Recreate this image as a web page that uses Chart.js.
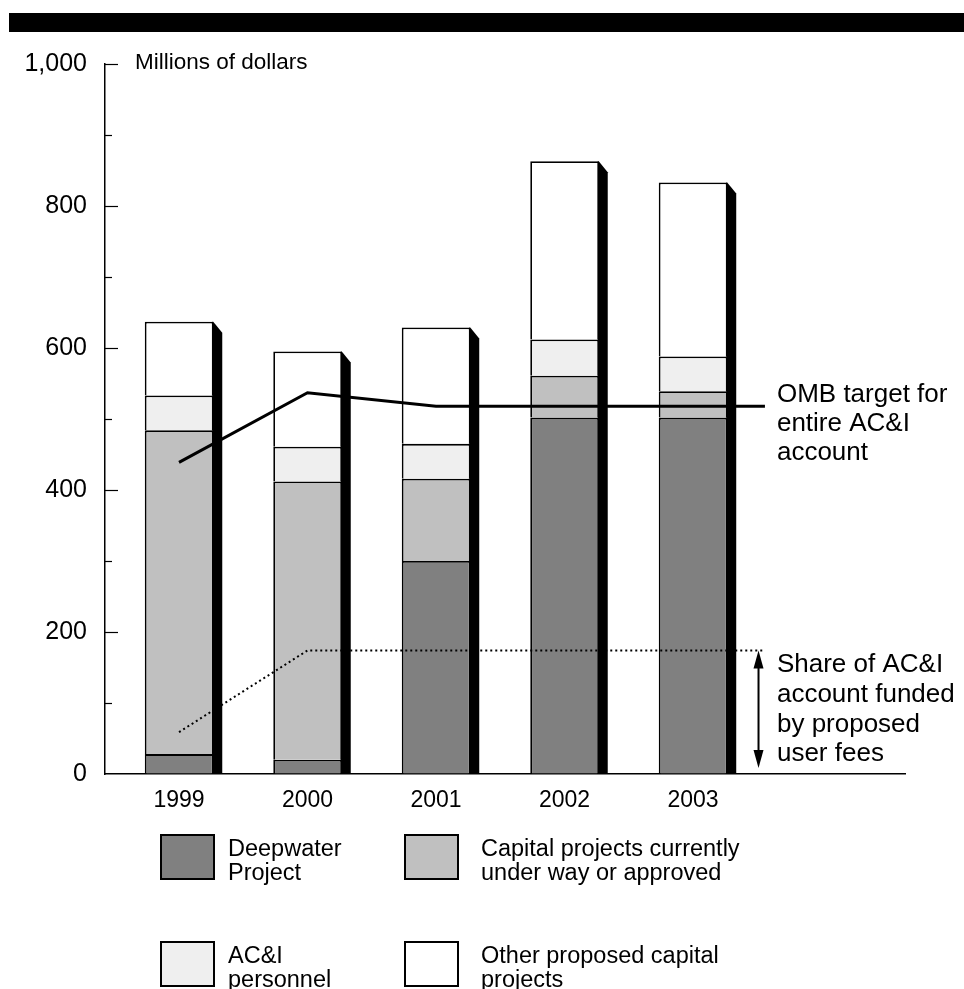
<!DOCTYPE html>
<html>
<head>
<meta charset="utf-8">
<script src="https://cdn.jsdelivr.net/npm/chart.js@4.4.0/dist/chart.umd.min.js"></script>
<style>
  html, body { margin: 0; padding: 0; background: #fff; }
  #wrap { width: 964px; height: 989px; }
</style>
</head>
<body>
<div id="wrap"><canvas id="myChart" width="964" height="989"></canvas></div>
<script>
// values (millions of dollars)
const years = ['1999', '2000', '2001', '2002', '2003'];
const deepwater = [28, 20, 300, 502, 502];
const capitalUnderWay = [456, 392, 116, 59, 37];
const aciPersonnel = [49, 49, 49, 51, 49];
const otherCapital = [104, 134, 164, 251, 245];
const ombTarget = [439, 537, 518, 518, 518];
const userFeeShare = [59, 174, 174, 174, 174];
const lineEndX = 4.56;     // both reference lines run on past 2003
const arrowX = 4.51;
const yMax = 1000;
const yStep = 200;
const yMinorStep = 100;
const xMin = -0.576;
const xMax = 5.65;

const seriesLabels = [
  ['Deepwater', 'Project'],
  ['Capital projects currently', 'under way or approved'],
  ['AC&I', 'personnel'],
  ['Other proposed capital', 'projects']
];
const seriesColors = ['#808080', '#c0c0c0', '#efefef', '#ffffff'];
const ombText = ['OMB target for', 'entire AC&I', 'account'];
const feeText = ['Share of AC&I', 'account funded', 'by proposed', 'user fees'];
const unitText = 'Millions of dollars';

const FONT = '"Liberation Sans", Arial, Helvetica, sans-serif';

const toPoints = (arr) => arr.map((v, i) => ({ x: i, y: v }));
const withTail = (arr) => toPoints(arr).concat({ x: lineEndX, y: arr[arr.length - 1] });

const barSet = (label, values, color) => ({
  type: 'bar',
  label: label.join(' '),
  data: toPoints(values),
  backgroundColor: color,
  borderColor: '#000',
  borderWidth: { top: 1.8, left: 1.8, right: 1.5, bottom: 0 },
  borderSkipped: false,
  stack: 'main',
  order: 1,
  categoryPercentage: 1,
  barPercentage: 0.533
});

const decorations = {
  id: 'decorations',
  beforeDraw(chart) {
    const ctx = chart.ctx;
    ctx.save();
    ctx.fillStyle = '#000';
    ctx.fillRect(9, 13, chart.width - 9, 19);
    ctx.restore();
  },
  beforeDatasetsDraw(chart) {
    // black slanted side of each column
    const ctx = chart.ctx;
    const y = chart.scales.y;
    const base = y.getPixelForValue(0);
    const meta = chart.getDatasetMeta(3);
    ctx.save();
    ctx.fillStyle = '#000';
    meta.data.forEach((el) => {
      const r = el.x + el.width / 2;
      ctx.beginPath();
      ctx.moveTo(r - 1, el.y);
      ctx.lineTo(r, el.y);
      ctx.lineTo(r + 9, el.y + 11);
      ctx.lineTo(r + 9, base);
      ctx.lineTo(r - 1, base);
      ctx.closePath();
      ctx.fill();
    });
    ctx.restore();
  },
  afterDraw(chart) {
    const ctx = chart.ctx;
    const x = chart.scales.x;
    const y = chart.scales.y;
    const area = chart.chartArea;
    ctx.save();

    // inside tick marks on the value axis
    ctx.strokeStyle = '#000';
    ctx.lineWidth = 1.2;
    for (let v = yMinorStep; v <= yMax; v += yMinorStep) {
      const py = Math.round(y.getPixelForValue(v)) + 0.5;
      const len = v % yStep === 0 ? 13 : 7;
      ctx.beginPath();
      ctx.moveTo(area.left, py);
      ctx.lineTo(area.left + len, py);
      ctx.stroke();
    }

    ctx.fillStyle = '#000';
    ctx.textAlign = 'left';
    ctx.textBaseline = 'alphabetic';

    ctx.font = '22.5px ' + FONT;
    ctx.fillText(unitText, area.left + 30, y.getPixelForValue(yMax) + 5);

    // OMB target note
    ctx.font = '26px ' + FONT;
    const tx = x.getPixelForValue(lineEndX) + 12;
    let ty = y.getPixelForValue(ombTarget[ombTarget.length - 1]) - 4;
    ombText.forEach((t, i) => ctx.fillText(t, tx, ty + i * 29));

    // user fee note + double arrow
    const feeTop = y.getPixelForValue(userFeeShare[userFeeShare.length - 1]);
    const feeBottom = y.getPixelForValue(0) - 6;
    ty = feeTop + 22;
    feeText.forEach((t, i) => ctx.fillText(t, tx, ty + i * 29.6));

    const ax = x.getPixelForValue(arrowX);
    ctx.lineWidth = 2;
    ctx.beginPath();
    ctx.moveTo(ax, feeTop + 12);
    ctx.lineTo(ax, feeBottom - 12);
    ctx.stroke();
    ctx.beginPath();
    ctx.moveTo(ax, feeTop);
    ctx.lineTo(ax - 5, feeTop + 18);
    ctx.lineTo(ax + 5, feeTop + 18);
    ctx.closePath();
    ctx.fill();
    ctx.beginPath();
    ctx.moveTo(ax, feeBottom);
    ctx.lineTo(ax - 5, feeBottom - 18);
    ctx.lineTo(ax + 5, feeBottom - 18);
    ctx.closePath();
    ctx.fill();

    // legend, two by two
    const cols = [{ box: 161, text: 228 }, { box: 405, text: 481 }];
    const rows = [835, 942];
    ctx.font = '23.5px ' + FONT;
    seriesLabels.forEach((lines, i) => {
      const c = cols[i % 2];
      const top = rows[Math.floor(i / 2)];
      ctx.fillStyle = seriesColors[i];
      ctx.fillRect(c.box, top, 53, 44);
      ctx.strokeStyle = '#000';
      ctx.lineWidth = 2;
      ctx.strokeRect(c.box, top, 53, 44);
      ctx.fillStyle = '#000';
      lines.forEach((t, j) => ctx.fillText(t, c.text, top + 21 + j * 24));
    });

    ctx.restore();
  }
};

const ctx = document.getElementById('myChart').getContext('2d');
new Chart(ctx, {
  type: 'bar',
  data: {
    datasets: [
      barSet(seriesLabels[0], deepwater, seriesColors[0]),
      barSet(seriesLabels[1], capitalUnderWay, seriesColors[1]),
      barSet(seriesLabels[2], aciPersonnel, seriesColors[2]),
      barSet(seriesLabels[3], otherCapital, seriesColors[3]),
      {
        type: 'line',
        label: 'OMB target',
        data: withTail(ombTarget),
        borderColor: '#000',
        borderWidth: 3,
        pointRadius: 0,
        tension: 0,
        fill: false,
        stack: 'omb',
        order: 0
      },
      {
        type: 'line',
        label: 'User fees',
        data: withTail(userFeeShare),
        borderColor: '#000',
        borderWidth: 2,
        borderDash: [2, 3],
        pointRadius: 0,
        tension: 0,
        fill: false,
        stack: 'fees',
        order: 0
      }
    ]
  },
  options: {
    responsive: false,
    animation: false,
    layout: { padding: { top: 64, right: 59, bottom: 155, left: 0 } },
    plugins: {
      legend: { display: false },
      tooltip: { enabled: false }
    },
    scales: {
      x: {
        type: 'linear',
        min: xMin,
        max: xMax,
        offset: false,
        stacked: true,
        afterBuildTicks: (scale) => { scale.ticks = years.map((_, i) => ({ value: i })); },
        afterFit: (scale) => { scale.height = 60; },
        ticks: {
          autoSkip: false,
          maxRotation: 0,
          padding: 13,
          color: '#000',
          font: { family: FONT, size: 23 },
          callback: (v) => years[v]
        },
        grid: { drawOnChartArea: false, drawTicks: false },
        border: { display: true, color: '#000', width: 1.5 }
      },
      y: {
        min: 0,
        max: yMax,
        stacked: true,
        afterFit: (scale) => { scale.width = 105; },
        ticks: {
          stepSize: yStep,
          padding: 18,
          color: '#000',
          font: { family: FONT, size: 25 },
          callback: (v) => v.toLocaleString('en-US')
        },
        grid: { drawOnChartArea: false, drawTicks: false },
        border: { display: true, color: '#000', width: 1.5 }
      }
    }
  },
  plugins: [decorations]
});
</script>
</body>
</html>
